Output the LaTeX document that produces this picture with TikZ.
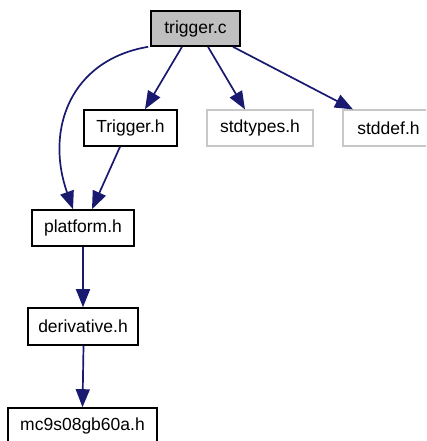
\documentclass[tikz,border=0pt]{standalone}
\usepackage{fontspec}
\setmainfont{Liberation Sans}
\usetikzlibrary{arrows.meta}
\definecolor{edgeblue}{HTML}{191970}
\definecolor{boxgray}{HTML}{C8C8C8}
\definecolor{rootfill}{HTML}{BFBFBF}
\tikzset{
  filebox/.style={draw=black, line width=1.6pt, fill=white, rectangle, inner sep=0pt, font=\fontsize{17.5}{20}\selectfont},
  extbox/.style={draw=boxgray, line width=1.2pt, fill=white, rectangle, inner sep=0pt, font=\fontsize{17.5}{20}\selectfont},
  rootbox/.style={filebox, fill=rootfill},
  dep/.style={draw=edgeblue, line width=1.7pt, -{Triangle[length=18pt,width=14pt]}}
}
\begin{document}
\begin{tikzpicture}[x=1pt,y=-1pt]
\useasboundingbox (0,0) rectangle (426,441);
\fill[white] (0,0) rectangle (426,441);
\clip (0,0) rectangle (426,441);
\node[rootbox, minimum width=89pt, minimum height=35pt] (trig) at (195.5,28.5) {trigger.c};
\node[filebox, minimum width=93pt, minimum height=36pt] (trigh) at (130.5,128) {Trigger.h};
\node[extbox, minimum width=106pt, minimum height=36pt] (stdt) at (260,128) {stdtypes.h};
\node[extbox, minimum width=91pt, minimum height=36pt] (stdd) at (388.5,128) {stddef.h};
\node[filebox, minimum width=102pt, minimum height=36pt] (plat) at (83,228) {platform.h};
\node[filebox, minimum width=110pt, minimum height=37pt] (deriv) at (83,326.5) {derivative.h};
\node[filebox, minimum width=149pt, minimum height=37pt] (mc) at (82.5,426.5) {\raisebox{4pt}{mc9s08gb60a.h}};
\draw[dep] ([xshift=-2pt]trig.south west) .. controls (70,60) and (45,130) .. ([xshift=-10pt]plat.north);
\draw[dep] ([xshift=-13.5pt]trig.south) -- ([xshift=14.5pt]trigh.north);
\draw[dep] ([xshift=12.5pt]trig.south) -- ([xshift=-15pt]stdt.north);
\draw[dep] ([xshift=37.5pt]trig.south) -- ([xshift=-35.5pt]stdd.north);
\draw[dep] ([xshift=-10.5pt]trigh.south) -- ([xshift=9pt]plat.north);
\draw[dep] (plat.south) -- (deriv.north);
\draw[dep] ([xshift=0.5pt]deriv.south) -- (mc.north);
\end{tikzpicture}
\end{document}
